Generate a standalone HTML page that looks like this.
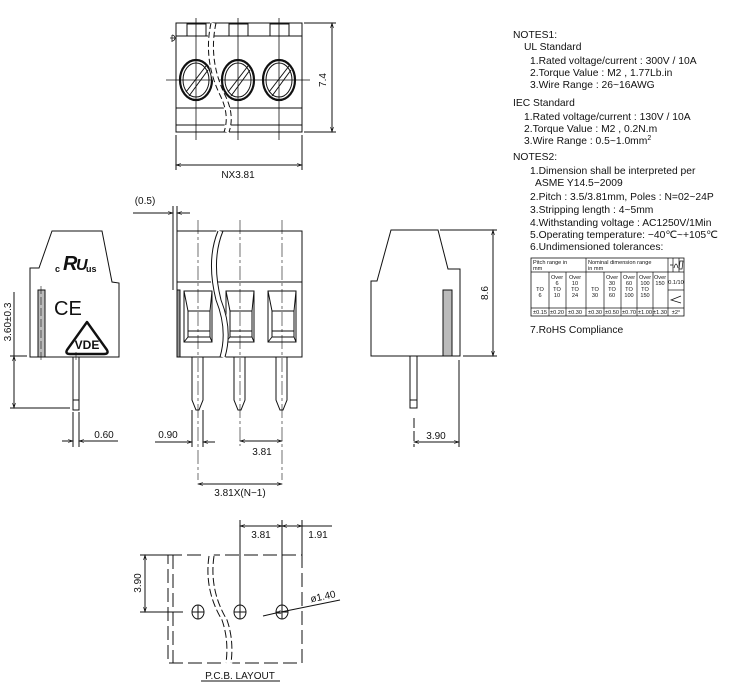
<!DOCTYPE html>
<html><head><meta charset="utf-8"><style>
html,body{margin:0;padding:0;background:#fff;}
svg{display:block;}
text{font-family:"Liberation Sans",sans-serif;fill:#111;}
</style></head><body>
<svg width="732" height="690" viewBox="0 0 732 690" xmlns="http://www.w3.org/2000/svg">
<defs>
<marker id="a" viewBox="0 0 10 10" refX="10" refY="5" markerWidth="7" markerHeight="5" orient="auto-start-reverse"><path d="M0,2 L10,5 L0,8" fill="none" stroke="#111" stroke-width="1.2"/></marker>
</defs>
<g stroke="#111" stroke-width="1" fill="none">
<!-- TOP VIEW -->
<rect x="176" y="23" width="126" height="109"/>
<line x1="176" y1="36" x2="302" y2="36"/>
<line x1="176" y1="108" x2="302" y2="108"/>
<line x1="176" y1="125" x2="302" y2="125"/>
<rect x="187" y="24" width="19" height="12"/>
<rect x="229" y="24" width="19" height="12"/>
<rect x="270" y="24" width="19" height="12"/>
<ellipse cx="196" cy="80" rx="16" ry="20" stroke-width="2.2"/>
<ellipse cx="238" cy="80" rx="16" ry="20" stroke-width="2.2"/>
<ellipse cx="279" cy="80" rx="16" ry="20" stroke-width="2.2"/>
<ellipse cx="196" cy="80" rx="13" ry="17"/>
<ellipse cx="238" cy="80" rx="13" ry="17"/>
<ellipse cx="279" cy="80" rx="13" ry="17"/>
<path d="M186,92 L206,66 M189,96 L208,70"/>
<path d="M228,92 L248,66 M231,96 L250,70"/>
<path d="M269,92 L289,66 M272,96 L291,70"/>
<line x1="166" y1="80" x2="310" y2="80" stroke-width="0.8"/>
<line x1="196" y1="18" x2="196" y2="140" stroke-width="0.8"/>
<line x1="238" y1="18" x2="238" y2="140" stroke-width="0.8"/>
<line x1="279" y1="18" x2="279" y2="140" stroke-width="0.8"/>
<path d="M213,23 Q205,60 222,95 Q232,115 226,132" stroke="#fff" stroke-width="6"/>
<path d="M211,23 Q203,60 220,95 Q230,115 224,132" stroke-dasharray="6,3"/>
<path d="M216,23 Q208,60 225,95 Q235,115 229,132" stroke-dasharray="6,3"/>
<path d="M172,35 a3,3 0 0 1 0,6 M172,35 v7 M170,38 h6" stroke-width="0.8"/>
<line x1="304" y1="23" x2="336" y2="23"/><line x1="304" y1="132" x2="336" y2="132"/>
<line x1="332" y1="23" x2="332" y2="132" marker-start="url(#a)" marker-end="url(#a)"/>
<line x1="176" y1="135" x2="176" y2="170"/><line x1="302" y1="135" x2="302" y2="170"/>
<line x1="176" y1="165" x2="302" y2="165" marker-start="url(#a)" marker-end="url(#a)"/>

<!-- LEFT SIDE VIEW -->
<path d="M52,231 L102,231 L112,282 L119,283 L119,357 L30,357 L30,268 L39,268 Z"/>
<rect x="38" y="290" width="7" height="67" fill="#bbb"/>
<line x1="41" y1="286" x2="41" y2="362" stroke-width="0.6" stroke-dasharray="8,3"/>
<rect x="73" y="357" width="6" height="53"/>
<line x1="73" y1="400" x2="79" y2="400"/>
<line x1="76" y1="352" x2="76" y2="360" stroke-width="0.6"/>
<path d="M87,322 L107,350 Q109,354 104,354 L70,354 Q65,354 67,350 Z" stroke-width="2.4" stroke-linejoin="round"/>
<line x1="10" y1="356" x2="27" y2="356"/><line x1="10" y1="408" x2="70" y2="408"/>
<line x1="14" y1="292" x2="14" y2="356"/>
<line x1="14" y1="356" x2="14" y2="408" marker-start="url(#a)" marker-end="url(#a)"/>
<line x1="73" y1="412" x2="73" y2="447"/><line x1="79" y1="412" x2="79" y2="447"/>
<line x1="62" y1="441" x2="73" y2="441" marker-end="url(#a)"/>
<line x1="118" y1="441" x2="79" y2="441" marker-end="url(#a)"/>

<!-- FRONT VIEW -->
<rect x="177" y="231" width="125" height="126"/>
<line x1="177" y1="282" x2="302" y2="282"/>
<rect x="177" y="290" width="3" height="67" fill="#999"/>
<g id="w">
<rect x="184" y="291" width="28" height="51"/>
<rect x="188" y="311" width="22" height="26"/>
<line x1="188" y1="331" x2="210" y2="331"/>
<path d="M184,291 L188,311 M212,291 L210,311 M184,342 L188,337 M212,342 L210,337"/>
<path d="M192,357 L192,400 L196,410 L199,410 L203,400 L203,357"/>
</g>
<use href="#w" x="42"/>
<use href="#w" x="84"/>
<path d="M220,231 Q208,260 218,300 Q230,330 222,357" stroke="#fff" stroke-width="7"/>
<path d="M218,231 Q206,260 216,300 Q228,330 220,357"/>
<path d="M223,231 Q211,260 221,300 Q233,330 225,357"/>
<g stroke-width="0.6" stroke-dasharray="14,3,3,3">
<line x1="198" y1="220" x2="198" y2="480"/>
<line x1="240" y1="220" x2="240" y2="446"/>
<line x1="282" y1="220" x2="282" y2="480"/>
</g>
<line x1="173" y1="206" x2="173" y2="290"/><line x1="177" y1="206" x2="177" y2="231"/>
<line x1="133" y1="213" x2="173" y2="213" marker-end="url(#a)"/>
<line x1="190" y1="213" x2="177" y2="213" marker-end="url(#a)"/>
<line x1="192" y1="410" x2="192" y2="447"/><line x1="203" y1="410" x2="203" y2="447"/>
<line x1="155" y1="442" x2="192" y2="442" marker-end="url(#a)"/>
<line x1="215" y1="442" x2="203" y2="442" marker-end="url(#a)"/>
<line x1="240" y1="441" x2="282" y2="441" marker-start="url(#a)" marker-end="url(#a)"/>
<line x1="198" y1="484" x2="282" y2="484" marker-start="url(#a)" marker-end="url(#a)"/>

<!-- RIGHT SIDE VIEW -->
<path d="M391,230 L438,230 L448,269 L460,269 L460,356 L371,356 L371,281 L377,281 Z"/>
<rect x="443" y="290" width="9" height="66" fill="#bbb"/>
<rect x="410" y="356" width="7" height="52"/>
<line x1="410" y1="400" x2="417" y2="400"/>
<line x1="440" y1="230" x2="497" y2="230"/><line x1="463" y1="356" x2="497" y2="356"/>
<line x1="493" y1="230" x2="493" y2="356" marker-start="url(#a)" marker-end="url(#a)"/>
<line x1="414" y1="418" x2="414" y2="447" stroke-dasharray="10,3"/><line x1="459" y1="360" x2="459" y2="447"/>
<line x1="414" y1="442" x2="459" y2="442" marker-start="url(#a)" marker-end="url(#a)"/>

<!-- PCB -->
<g stroke-dasharray="14,5">
<rect x="168" y="555" width="134" height="108"/>
<line x1="173" y1="555" x2="173" y2="663"/>
</g>
<path d="M210,553 Q205,590 225,620 Q232,640 228,665" stroke="#fff" stroke-width="8"/>
<path d="M209,556 Q204,590 222,620 Q229,640 226,663" stroke-dasharray="8,3"/>
<path d="M214,556 Q209,590 227,620 Q234,640 231,663" stroke-dasharray="8,3"/>
<g id="h"><ellipse cx="198" cy="612" rx="6" ry="7"/><line x1="192" y1="612" x2="204" y2="612"/><line x1="198" y1="605" x2="198" y2="619"/></g>
<use href="#h" x="42"/><use href="#h" x="84"/>
<line x1="240" y1="520" x2="240" y2="605"/><line x1="282" y1="520" x2="282" y2="605"/><line x1="302" y1="520" x2="302" y2="555"/>
<line x1="240" y1="526" x2="282" y2="526" marker-start="url(#a)" marker-end="url(#a)"/>
<line x1="282" y1="526" x2="302" y2="526" marker-start="url(#a)" marker-end="url(#a)"/>
<line x1="302" y1="526" x2="332" y2="526"/>
<line x1="140" y1="555" x2="168" y2="555"/><line x1="140" y1="612" x2="183" y2="612"/>
<line x1="145" y1="555" x2="145" y2="612" marker-start="url(#a)" marker-end="url(#a)"/>
<line x1="340" y1="600" x2="276" y2="613" marker-end="url(#a)"/>
<line x1="276" y1="613" x2="263" y2="616"/>
<line x1="201" y1="681" x2="280" y2="681"/>

<!-- TABLE -->
<rect x="531" y="258" width="153" height="58" stroke-width="0.8"/>
<g stroke-width="0.7">
<line x1="531" y1="272" x2="684" y2="272"/>
<line x1="531" y1="308" x2="684" y2="308"/>
<line x1="668" y1="290" x2="684" y2="290"/>
<line x1="549" y1="272" x2="549" y2="316"/>
<line x1="566" y1="272" x2="566" y2="316"/>
<line x1="586" y1="258" x2="586" y2="316"/>
<line x1="604" y1="272" x2="604" y2="316"/>
<line x1="621" y1="272" x2="621" y2="316"/>
<line x1="637" y1="272" x2="637" y2="316"/>
<line x1="653" y1="272" x2="653" y2="316"/>
<line x1="668" y1="258" x2="668" y2="316"/>
<line x1="673" y1="258" x2="673" y2="272"/><line x1="679" y1="258" x2="679" y2="272"/>
<path d="M670,265 h3 M674,268 q2,-8 4,0 M680,261 h3 l-1,8 h-3 z"/>
<path d="M681,296 L671,300 L681,303"/>
</g>
</g>

<!-- TEXT -->
<g font-size="10">
<text x="238" y="178" text-anchor="middle">NX3.81</text>
<text transform="translate(326,80) rotate(-90)" text-anchor="middle">7.4</text>
<text x="145" y="204" text-anchor="middle">(0.5)</text>
<text x="168" y="438" text-anchor="middle">0.90</text>
<text x="262" y="455" text-anchor="middle">3.81</text>
<text x="240" y="496" text-anchor="middle">3.81X(N−1)</text>
<text x="104" y="438" text-anchor="middle">0.60</text>
<text transform="translate(11,322) rotate(-90)" text-anchor="middle">3.60±0.3</text>
<text transform="translate(488,293) rotate(-90)" text-anchor="middle">8.6</text>
<text x="436" y="439" text-anchor="middle">3.90</text>
<text x="261" y="538" text-anchor="middle">3.81</text>
<text x="318" y="538" text-anchor="middle">1.91</text>
<text transform="translate(141,583) rotate(-90)" text-anchor="middle">3.90</text>
<text x="310" y="600" transform="rotate(-12 322 596)">ø1.40</text>
<text x="240" y="679" text-anchor="middle">P.C.B. LAYOUT</text>
</g>
<text x="55" y="272" font-size="9" font-weight="bold">c</text>
<text x="63" y="270" font-size="20" font-weight="bold" font-style="italic">R</text>
<text x="76" y="270" font-size="16" font-weight="bold" font-style="italic">U</text>
<text x="86" y="272" font-size="9" font-weight="bold">us</text>
<text x="54" y="315" font-size="20">CE</text>
<text x="87" y="349" font-size="12" font-weight="bold" text-anchor="middle">VDE</text>

<g font-size="10.3">
<text x="513" y="38">NOTES1:</text>
<text x="524" y="50">UL Standard</text>
<text x="530" y="64">1.Rated voltage/current : 300V / 10A</text>
<text x="530" y="76">2.Torque Value : M2 , 1.77Lb.in</text>
<text x="530" y="88">3.Wire Range : 26~16AWG</text>
<text x="513" y="106">IEC Standard</text>
<text x="524" y="120">1.Rated voltage/current : 130V / 10A</text>
<text x="524" y="132">2.Torque Value : M2 , 0.2N.m</text>
<text x="524" y="144">3.Wire Range : 0.5~1.0mm<tspan font-size="7" dy="-4">2</tspan></text>
<text x="513" y="160">NOTES2:</text>
<text x="530" y="174">1.Dimension shall be interpreted per</text>
<text x="535" y="186">ASME Y14.5−2009</text>
<text x="530" y="200">2.Pitch : 3.5/3.81mm, Poles : N=02~24P</text>
<text x="530" y="213">3.Stripping length : 4~5mm</text>
<text x="530" y="226">4.Withstanding voltage : AC1250V/1Min</text>
<text x="530" y="238">5.Operating temperature: −40℃~+105℃</text>
<text x="530" y="250">6.Undimensioned tolerances:</text>
<text x="530" y="333">7.RoHS Compliance</text>
</g>
<g font-size="5.6">
<text x="533" y="264">Pitch range in</text><text x="533" y="270">mm</text>
<text x="588" y="264">Nominal dimension range</text><text x="588" y="270">in mm</text>
<g text-anchor="middle">
<text x="557" y="279">Over</text><text x="557" y="285">6</text><text x="557" y="291">TO</text><text x="557" y="297">10</text>
<text x="575" y="279">Over</text><text x="575" y="285">10</text><text x="575" y="291">TO</text><text x="575" y="297">24</text>
<text x="540" y="291">TO</text><text x="540" y="297">6</text>
<text x="595" y="291">TO</text><text x="595" y="297">30</text>
<text x="612" y="279">Over</text><text x="612" y="285">30</text><text x="612" y="291">TO</text><text x="612" y="297">60</text>
<text x="629" y="279">Over</text><text x="629" y="285">60</text><text x="629" y="291">TO</text><text x="629" y="297">100</text>
<text x="645" y="279">Over</text><text x="645" y="285">100</text><text x="645" y="291">TO</text><text x="645" y="297">150</text>
<text x="660" y="279">Over</text><text x="660" y="285">150</text>
<text x="676" y="284">0.1/10</text>
<text x="540" y="314">±0.15</text><text x="557" y="314">±0.20</text><text x="575" y="314">±0.30</text>
<text x="595" y="314">±0.30</text><text x="612" y="314">±0.50</text><text x="629" y="314">±0.70</text>
<text x="645" y="314">±1.00</text><text x="660" y="314">±1.30</text><text x="676" y="314">±2°</text>
</g>
</g>
</svg>
</body></html>
